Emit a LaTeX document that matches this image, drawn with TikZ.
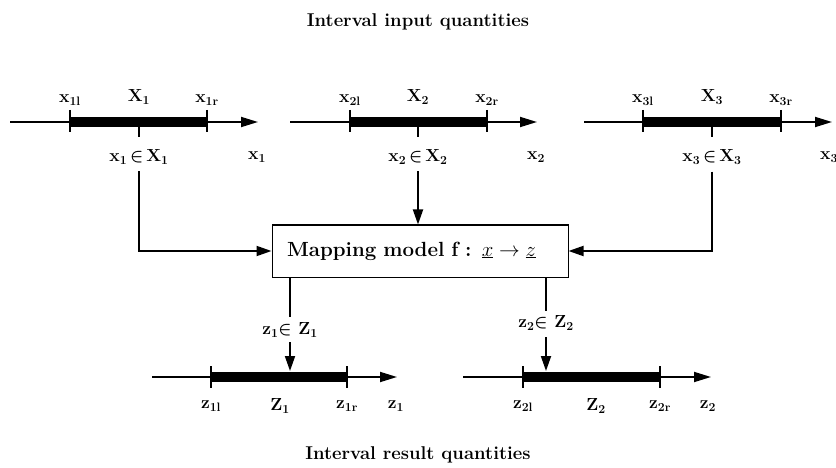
\documentclass[tikz,border=0pt]{standalone}
\usepackage{fontspec}
\usetikzlibrary{arrows.meta}
\tikzset{
  lab/.style={font=\fontsize{17.5}{20}\selectfont\bfseries\boldmath, inner sep=1pt},
  ttl/.style={font=\fontsize{18.5}{22}\selectfont\bfseries},
  axisline/.style={line width=1.8pt, -{Triangle[length=17pt,width=10pt]}},
  barline/.style={line width=10pt},
  tickline/.style={line width=2pt},
  conn/.style={line width=1.8pt},
  arr/.style={line width=1.8pt, -{Triangle[length=15pt,width=10pt]}},
  mapbox/.style={draw, line width=1pt, font=\fontsize{20.5}{24}\selectfont\bfseries,
    text width=266pt, inner xsep=15pt, align=left, minimum height=52pt},
}
\begin{document}
\begin{tikzpicture}[x=1pt,y=-1pt]
\useasboundingbox (0,0) rectangle (836,468);

% titles
\node[ttl] (tin) at (418,22) {Interval input quantities};
\node[ttl] (tout) at (418,455) {Interval result quantities};

% input axes
\foreach \i/\s/\l/\r/\m/\e in {1/10/70/207/139/258, 2/290/350/487/418/537, 3/584/643/781/712/832}{
  \coordinate (s\i) at (\s,122);
  \coordinate (e\i) at (\e,122);
  \coordinate (l\i) at (\l,122);
  \coordinate (r\i) at (\r,122);
  \coordinate (c\i) at (\m,122);
  \draw[axisline] (s\i) -- (e\i);
  \draw[barline] (l\i) -- (r\i);
  \draw[tickline] (\l,110) -- (\l,132);
  \draw[tickline] (\r,110) -- (\r,132);
  \draw[tickline] (c\i) -- (\m,137);
  \node[lab] (xl\i) at (\l,100) {x\textsubscript{\i l}};
  \node[lab] (X\i)  at (\m,97)  {X\textsubscript{\i}};
  \node[lab] (xr\i) at (\r,100) {x\textsubscript{\i r}};
  \node[lab] (m\i)  at (\m,157) {x\textsubscript{\i}\,$\in$\,X\textsubscript{\i}};
}
\node[lab] (v1) at (257,157) {x\textsubscript{1}};
\node[lab] (v2) at (536,157) {x\textsubscript{2}};
\node[lab] (v3) at (829,157) {x\textsubscript{3}};

% mapping box
\node[mapbox] (box) at (420,251) {Mapping model f : $\underline{x}\rightarrow\underline{z}$};

% input connectors
\draw[arr] ([yshift=-6pt]m1.south) |- (box.west);
\draw[arr] ([yshift=-6pt]m2.south) -- (m2.south |- box.north);
\draw[arr] ([yshift=-6pt]m3.south) |- (box.east);

% output axes
\foreach \i/\s/\l/\r/\m/\e/\lab in {1/152/211/347/280/397/396, 2/463/523/660/596/711/708}{
  \coordinate (zs\i) at (\s,377);
  \coordinate (ze\i) at (\e,377);
  \coordinate (zl\i) at (\l,377);
  \coordinate (zr\i) at (\r,377);
  \draw[axisline] (zs\i) -- (ze\i);
  \draw[barline] (zl\i) -- (zr\i);
  \draw[tickline] (\l,366) -- (\l,388);
  \draw[tickline] (\r,366) -- (\r,388);
  \node[lab] (zln\i) at (\l,406) {z\textsubscript{\i l}};
  \node[lab] (Z\i)   at (\m,406) {Z\textsubscript{\i}};
  \node[lab] (zrn\i) at (\r,406) {z\textsubscript{\i r}};
  \node[lab] (zv\i)  at (\lab,406) {z\textsubscript{\i}};
}

% output membership labels and connectors
\node[lab] (mz1) at (290,330) {z\textsubscript{1}$\in$ Z\textsubscript{1}};
\node[lab] (mz2) at (546,323) {z\textsubscript{2}$\in$ Z\textsubscript{2}};
\coordinate (t1) at (290,371);
\coordinate (t2) at (546,371);
\draw[conn] (box.south -| mz1) -- ([yshift=5pt]mz1.north);
\draw[arr] ([yshift=-4pt]mz1.south) -- (t1);
\draw[conn] (box.south -| mz2) -- ([yshift=4pt]mz2.north);
\draw[arr] ([yshift=-6pt]mz2.south) -- (t2);
\end{tikzpicture}
\end{document}
